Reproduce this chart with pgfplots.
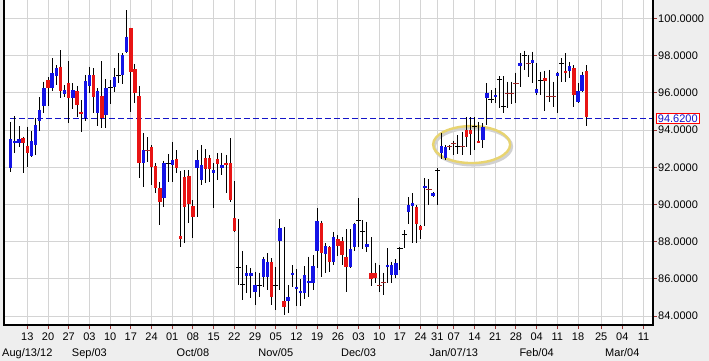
\documentclass[border=0pt]{standalone}
\usepackage{fontspec}
\setmainfont{Liberation Sans}
\usepackage{pgfplots}
\pgfplotsset{compat=1.18}
\usepackage{pgfplotstable}
\definecolor{bggray}{RGB}{238,238,238}
\definecolor{gridgray}{RGB}{212,212,212}
\definecolor{upblue}{RGB}{20,20,230}
\definecolor{dnred}{RGB}{232,20,20}
\definecolor{dojired}{RGB}{160,40,40}
\definecolor{tickred}{RGB}{150,50,50}
\definecolor{lineblue}{RGB}{20,20,200}
\definecolor{ringyellow}{RGB}{232,212,112}

\pgfplotstableread{
t o h l c
-4 91.94 94.45 91.76 93.50
-3 93.30 94.75 92.78 93.42
-2 93.32 94.21 93.10 93.50
1 92.60 93.96 92.57 93.41
2 93.19 94.63 92.66 94.27
3 94.50 95.76 93.96 95.08
4 95.29 96.60 94.90 96.24
6 96.24 97.85 96.11 97.05
7 96.90 97.49 96.42 97.32
9 95.94 96.42 95.79 96.15
11 95.70 96.51 95.11 96.15
14 94.63 96.96 94.50 96.63
15 96.37 97.41 95.97 96.96
17 94.90 96.24 94.21 96.11
19 94.81 96.72 94.09 96.24
21 96.29 97.32 96.06 96.87
23 96.96 98.12 96.47 98.03
24 98.21 100.45 98.12 99.02
28 92.21 93.82 90.95 92.92
33 90.33 92.35 89.88 92.24
35 92.12 93.37 91.22 92.39
41 91.94 92.92 89.34 92.39
42 91.31 93.19 91.04 92.12
45 91.71 92.21 89.79 91.85
47 91.97 92.78 91.58 92.12
53 86.15 86.74 85.22 86.29
54 86.15 86.56 84.95 86.29
55 85.31 86.38 84.59 85.67
57 86.11 87.19 85.58 87.05
58 86.11 87.37 85.40 86.92
61 88.05 89.22 85.40 88.71
63 84.82 85.67 84.14 85.04
64 86.20 86.74 85.58 86.33
65 85.43 86.51 84.54 85.58
66 85.25 85.97 84.54 85.34
67 85.25 86.69 84.90 86.20
68 85.79 87.19 85.04 85.90
69 85.79 87.28 85.40 86.69
70 87.50 89.79 86.56 89.11
72 87.33 87.91 86.33 87.76
74 86.92 88.53 86.74 88.23
78 86.65 88.66 86.56 87.58
79 87.73 89.02 87.51 88.93
82 87.69 89.07 87.46 87.87
87 86.65 87.64 85.79 86.74
88 86.20 86.92 85.79 86.74
89 86.20 87.05 86.03 86.83
92 89.61 90.38 88.95 89.97
93 89.91 90.59 87.94 90.06
96 90.86 91.40 88.84 90.99
98 90.45 90.68 90.38 90.59
100 92.75 93.86 92.42 93.14
101 92.48 93.19 92.39 93.10
110 93.46 94.36 93.01 94.14
111 95.70 96.51 94.27 96.01
113 95.79 96.24 95.43 95.88
119 97.46 98.12 96.29 97.62
122 97.62 98.21 96.54 97.76
123 95.97 97.58 95.88 96.19
128 96.90 97.14 94.93 97.08
131 97.19 97.67 96.78 97.44
133 95.52 96.51 95.47 96.11
134 96.11 97.14 96.06 96.96
}\up

\pgfplotstableread{
t o h l c
-1 93.59 93.64 91.67 93.28
0 93.16 94.18 92.03 92.78
5 96.69 96.83 95.29 96.24
8 97.41 98.30 95.70 96.11
10 96.51 97.71 94.39 95.74
12 96.11 96.37 94.72 95.34
13 94.98 95.61 93.91 94.86
16 96.96 97.32 94.93 95.76
18 95.83 97.71 94.10 94.63
25 99.47 99.50 94.99 97.14
26 97.28 97.55 95.43 95.97
27 95.83 96.37 91.42 92.21
30 93.10 93.19 91.04 92.03
31 92.06 92.21 90.59 90.86
32 90.86 91.22 88.89 90.15
36 92.42 92.92 91.67 91.94
37 88.30 91.80 87.69 88.15
38 91.49 91.85 87.91 89.88
39 91.53 91.85 88.98 90.02
40 89.91 90.24 88.18 89.34
43 92.48 92.96 91.13 91.89
44 92.48 92.66 91.22 91.89
46 92.42 92.75 91.31 92.15
48 92.24 92.66 90.63 92.12
49 92.21 93.55 90.15 90.24
50 89.25 91.26 88.50 88.59
59 86.89 87.10 84.59 85.04
62 84.81 88.80 84.05 84.47
71 89.02 89.13 86.11 87.41
73 87.69 87.76 86.38 86.92
75 88.12 88.35 87.23 87.76
76 88.05 88.23 86.74 87.28
77 87.19 88.66 85.31 86.65
83 86.33 88.23 85.61 85.97
84 86.33 86.87 85.76 86.03
94 89.88 89.97 87.94 88.95
95 88.84 88.89 88.12 88.62
106 94.00 94.68 93.10 93.61
107 94.00 94.68 92.66 93.78
109 93.43 94.45 93.28 93.32
125 96.78 97.19 95.04 96.65
130 97.19 98.12 96.60 97.05
132 97.32 97.49 95.22 95.88
135 97.19 97.49 94.21 94.68
}\down

\pgfplotstableread{
t v h l
20 96.29 96.69 95.40
22 96.94 98.12 96.51
34 92.21 92.71 91.22
51 86.62 89.20 85.67
52 85.72 87.51 84.86
56 85.67 86.33 85.04
60 85.63 86.65 84.32
80 89.13 90.33 87.73
81 88.52 89.16 87.58
90 87.64 87.69 86.47
91 88.41 88.62 87.64
99 91.81 91.94 89.97
104 93.14 93.73 92.71
108 94.18 94.68 92.92
112 95.66 96.15 95.43
114 96.69 96.90 95.20
115 95.25 96.90 94.93
120 97.98 98.27 97.23
124 96.65 97.14 95.88
129 97.58 97.85 96.60
}\dojik

\pgfplotstableread{
t v h l
29 92.90 93.60 92.30
85 85.62 86.74 85.31
86 85.79 86.33 85.13
97 90.80 91.35 89.97
102 93.10 93.20 92.92
103 93.28 93.43 92.66
105 93.14 93.91 92.66
116 95.98 96.60 95.20
117 95.98 96.60 95.40
118 96.50 97.08 95.47
121 97.58 98.03 96.83
126 95.81 97.23 95.50
127 95.81 96.60 95.25
}\dojir

\pgfplotsset{
  wick/.style={draw=none, mark=none, forget plot,
    error bars/.cd, y dir=minus, y explicit, error mark=none,
    error bar style={line width=1pt, draw=black, solid}},
  body/.style={draw=none, mark=none, forget plot,
    error bars/.cd, y dir=minus, y explicit, error mark=none,
    error bar style={line width=3.4pt, draw=#1, solid}},
  doji/.style={#1, only marks, mark=-, mark size=2.6pt, forget plot,
    mark options={line width=1pt, draw=#1}},
}

\newcommand{\lblfont}{\fontsize{11}{13}\selectfont}

\begin{document}
\begin{tikzpicture}
\path[use as bounding box, fill=bggray] (0,0) rectangle (709pt,361pt);
\begin{axis}[
  at={(4pt,36pt)}, anchor=south west,
  scale only axis, width=649pt, height=325pt,
  xmin=-5.63, xmax=151.1, ymin=83.52, ymax=100.99,
  axis background/.style={fill=white},
  axis line style={draw=none},
  clip mode=individual,
  xtick={0,5,10,15,20,25,30,35,40,45,50,55,60,65,70,75,80,85,90,95,99,103,108,113,118,123,128,133,138.6,143.7,148.8},
  xticklabels={13,20,27,03,10,17,24,01,08,15,22,29,05,12,19,26,03,10,17,24,31,07,14,21,28,04,11,18,25,04,11},
  ytick={84,86,88,90,92,94,96,98,100},
  yticklabel={\pgfmathprintnumber[fixed,fixed zerofill,precision=4,assume math mode=true]{\tick}},
  xtick pos=bottom, ytick pos=right, yticklabel pos=right,
  tick align=outside, major tick length=4pt,
  major tick style={draw=tickred, line width=1pt},
  grid=major, major grid style={draw=gridgray, line width=1pt},
  tick label style={font=\lblfont, text=black},
  xticklabel style={anchor=base, inner sep=0pt, yshift=-11pt},
  yticklabel style={anchor=west, inner sep=0pt, xshift=1pt},
]
% highlight ellipse
\draw[line width=3pt, black!18] ([xshift=1.5pt,yshift=-2pt]axis cs:107.3,93.22) ellipse [x radius=38.5pt, y radius=18.5pt];
\draw[line width=2.4pt, ringyellow] (axis cs:107.3,93.22) ellipse [x radius=38.5pt, y radius=18.5pt];

% reference level
\addplot[lineblue, line width=1.2pt, dash pattern=on 6pt off 3pt, forget plot] coordinates {(-4.2,94.62) (151.1,94.62)};

% wicks
\addplot[wick] table[x=t, y=h, y error minus expr=\thisrow{h}-\thisrow{l}] {\up};
\addplot[wick] table[x=t, y=h, y error minus expr=\thisrow{h}-\thisrow{l}] {\down};
\addplot[wick] table[x=t, y=h, y error minus expr=\thisrow{h}-\thisrow{l}] {\dojik};
\addplot[wick] table[x=t, y=h, y error minus expr=\thisrow{h}-\thisrow{l}] {\dojir};

% bodies
\addplot[body=upblue] table[x=t, y=c, y error minus expr=\thisrow{c}-\thisrow{o}] {\up};
\addplot[body=dnred] table[x=t, y=o, y error minus expr=\thisrow{o}-\thisrow{c}] {\down};
\addplot[doji=black] table[x=t, y=v] {\dojik};
\addplot[doji=dojired] table[x=t, y=v] {\dojir};

% frame (left, bottom, right)
\draw[black, line width=1.5pt] (rel axis cs:0,1) -- (rel axis cs:0,0) -- (rel axis cs:1,0) -- (rel axis cs:1,1);

% current level label
\node[anchor=west, draw=red, fill=white, text=lineblue, line width=0.8pt, inner xsep=1.5pt, inner ysep=1pt, font=\lblfont] at ([xshift=3pt]axis cs:151.1,94.62) {94.6200};

% month labels
\node[anchor=base, font=\lblfont, inner sep=0pt] at ([yshift=-31pt]axis cs:0,83.52) {Aug/13/12};
\node[anchor=base, font=\lblfont, inner sep=0pt] at ([yshift=-31pt]axis cs:15,83.52) {Sep/03};
\node[anchor=base, font=\lblfont, inner sep=0pt] at ([yshift=-31pt]axis cs:40,83.52) {Oct/08};
\node[anchor=base, font=\lblfont, inner sep=0pt] at ([yshift=-31pt]axis cs:60,83.52) {Nov/05};
\node[anchor=base, font=\lblfont, inner sep=0pt] at ([yshift=-31pt]axis cs:80,83.52) {Dec/03};
\node[anchor=base, font=\lblfont, inner sep=0pt] at ([yshift=-31pt]axis cs:103,83.52) {Jan/07/13};
\node[anchor=base, font=\lblfont, inner sep=0pt] at ([yshift=-31pt]axis cs:123,83.52) {Feb/04};
\node[anchor=base, font=\lblfont, inner sep=0pt] at ([yshift=-31pt]axis cs:143.7,83.52) {Mar/04};
\end{axis}
\end{tikzpicture}
\end{document}
